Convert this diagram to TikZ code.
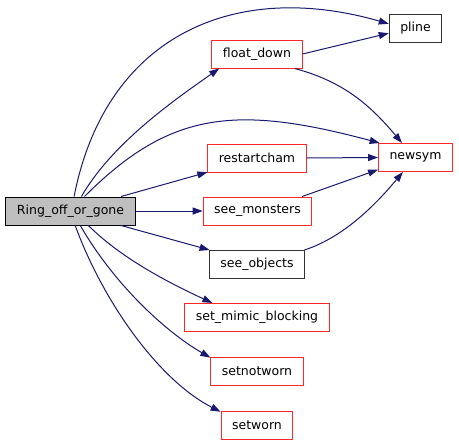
\documentclass[tikz,border=0pt]{standalone}
\usepackage{fontspec}
\setmainfont{DejaVu Sans}
\usetikzlibrary{arrows.meta}

\begin{document}
\begin{tikzpicture}[
    x=1pt, y=1pt,
    >={Triangle[length=10pt,width=7pt]},
    fn/.style={draw=fnline,line width=1pt,fill=white,minimum height=28pt,inner xsep=11pt,
               font=\fontsize{12.5pt}{15pt}\selectfont},
    fnok/.style={fn,draw=black!80},
    fnroot/.style={fn,draw=black,fill=rootfill},
    call/.style={->,draw=callline,line width=1pt},
]
\definecolor{fnline}{RGB}{255,40,40}
\definecolor{rootfill}{RGB}{191,191,191}
\definecolor{callline}{RGB}{25,25,112}

\useasboundingbox (0,0) rectangle (459,-445);

% ================= the caller =================
\node[fnroot] (ring) at (70.5,-211) {Ring\_off\_or\_gone};

% ================= the callees, one column =================
\node[fn] (floatdown) at (257,-54) {float\_down};
\node[fn] (restartcham) at (257,-158) {restartcham};
\node[fn] (seemonsters) at (257.5,-211) {see\_monsters};
\node[fnok] (seeobjects) at (257,-264.5) {see\_objects};
\node[fn] (mimic) at (257,-317.5) {set\_mimic\_blocking};
\node[fn] (setnotworn) at (257,-371) {setnotworn};
\node[fn] (setworn) at (257,-425) {setworn};

% ================= second level =================
\node[fnok] (pline) at (415.5,-28.5) {pline};
\node[fn] (newsym) at (415.5,-157.5) {newsym};

% ================= calls from Ring_off_or_gone =================
\draw[call] (ring.76) to[out=79,in=164,out distance=160pt,in distance=165pt] (pline.170);
\draw[call] (ring.53) to[out=60,in=215,out distance=60pt,in distance=60pt] (floatdown.201);
\draw[call] (ring.46) to[out=45,in=165,out distance=120pt,in distance=150pt] (newsym.158);
\draw[call] (ring.16) -- (restartcham.196);
\draw[call] (ring.east) -- (seemonsters.west);
\draw[call] (ring.-16) -- (seeobjects.163);
\draw[call] (ring.-39) to[out=-45,in=155,out distance=50pt,in distance=40pt] (mimic.162);
\draw[call] (ring.-56) to[out=-60,in=150,out distance=70pt,in distance=50pt] (setnotworn.164);
\draw[call] (ring.-72) to[out=-70,in=153,out distance=80pt,in distance=70pt] (setworn.160);

% ================= calls into pline / newsym =================
\draw[call] (floatdown.east) -- (pline.190);
\draw[call] (floatdown.339) to[out=-15,in=130,out distance=50pt,in distance=50pt] (newsym.133);
\draw[call] (restartcham.east) -- (newsym.west);
\draw[call] (seemonsters.18) -- (newsym.198);
\draw[call] (seeobjects.17) to[out=18,in=230,out distance=45pt,in distance=35pt] (newsym.229);

\end{tikzpicture}
\end{document}
